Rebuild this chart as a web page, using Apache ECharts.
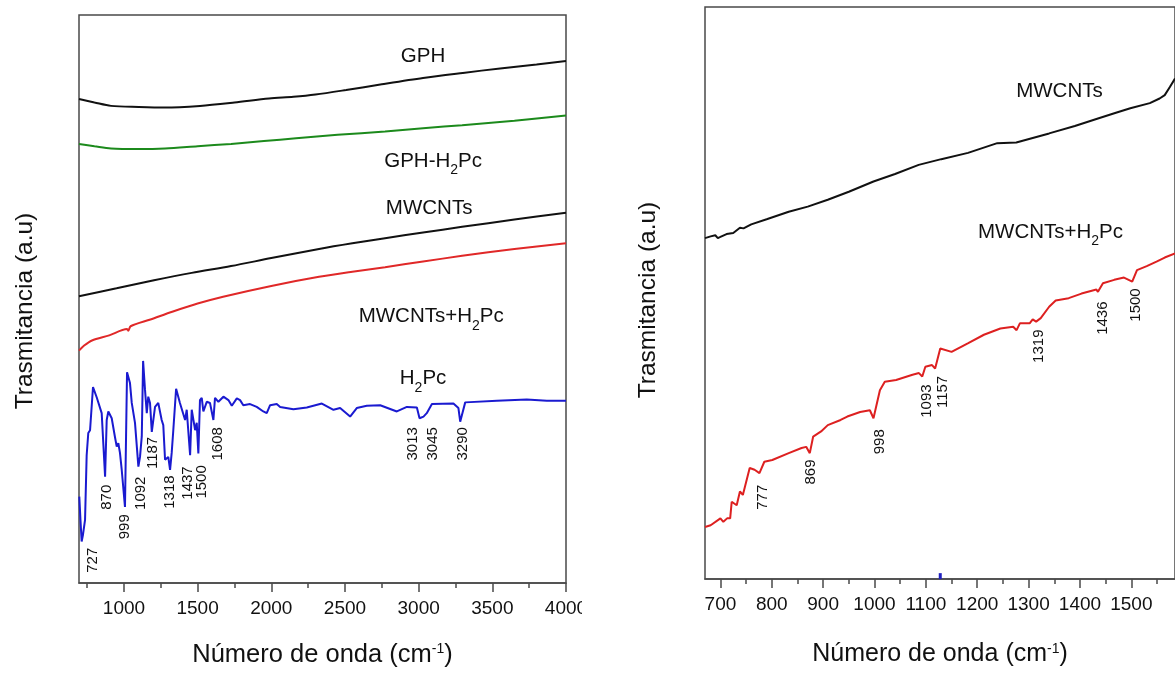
<!DOCTYPE html>
<html><head><meta charset="utf-8">
<script src="https://cdn.jsdelivr.net/npm/echarts@6/dist/echarts.min.js"></script>
<style>html,body{margin:0;padding:0;background:#fff}#c{width:1175px;height:673px}</style>
</head><body><div id="c"></div>
<script>
// ---------- DATA (left panel: 700–4000 cm-1) ----------
const leftTicks = [1000, 1500, 2000, 2500, 3000, 3500, 4000];
const leftMinorTicks = [750, 1250, 1750, 2250, 2750, 3250, 3750];

const gph = [[695,85.2],[800,84.6],[912,84.0],[1100,83.8],[1279,83.7],[1516,84.0],[1750,84.6],[1985,85.3],[2150,85.6],[2300,86.0],[2508,86.8],[2750,87.8],[3030,88.9],[3300,89.8],[3553,90.6],[3800,91.3],[4000,91.9]];
const gphH2pc = [[695,77.3],[800,76.9],[912,76.5],[1100,76.4],[1279,76.5],[1500,76.9],[1727,77.3],[1950,77.8],[2168,78.3],[2450,78.9],[2772,79.5],[3050,80.1],[3295,80.6],[3650,81.4],[4000,82.3]];
const mwcnts = [[695,50.5],[950,51.9],[1204,53.3],[1460,54.6],[1727,55.8],[2000,57.2],[2324,58.8],[2550,59.8],[2772,60.7],[3030,61.7],[3295,62.7],[3650,64.0],[4000,65.2]];
const mwcntsH2pc = [[695,40.9],[730,41.8],[783,42.7],[900,43.6],[1021,44.7],[1030,44.4],[1045,45.2],[1180,46.4],[1333,47.8],[1500,49.2],[1673,50.4],[2000,52.3],[2324,53.9],[2550,54.8],[2772,55.6],[3030,56.6],[3295,57.6],[3650,58.8],[4000,59.8]];
const h2pc = [[697,15.2],[705,11.1],[713,7.3],[722,8.5],[729,8.8],[736,11.1],[747,22.5],[758,26.4],[770,26.9],[790,34.5],[815,32.7],[849,29.9],[872,18.7],[883,28.7],[894,30.2],[917,29.0],[939,25.7],[951,24.0],[962,24.6],[973,22.9],[985,19.9],[1007,13.4],[1021,37.1],[1041,35.2],[1053,31.7],[1075,28.2],[1098,20.5],[1109,22.2],[1121,25.8],[1130,39.1],[1143,34.0],[1155,29.9],[1165,32.8],[1177,31.7],[1189,26.6],[1211,31.0],[1233,31.7],[1256,28.7],[1267,27.8],[1279,21.7],[1301,22.2],[1313,19.9],[1324,22.9],[1335,26.9],[1354,34.2],[1380,31.7],[1415,28.7],[1426,30.5],[1449,22.5],[1460,30.5],[1483,26.9],[1494,28.2],[1505,22.8],[1516,32.2],[1528,32.6],[1539,30.2],[1562,31.9],[1584,31.7],[1607,28.7],[1618,32.6],[1641,31.9],[1675,32.8],[1709,32.2],[1732,31.2],[1766,32.5],[1788,32.2],[1810,31.3],[1856,31.5],[1901,31.0],[1946,30.2],[1969,29.9],[1992,31.3],[2037,31.5],[2060,31.0],[2150,30.6],[2241,30.9],[2343,31.6],[2422,30.5],[2467,30.8],[2535,29.3],[2580,30.8],[2648,31.2],[2739,31.3],[2852,30.2],[2920,31.0],[2988,30.9],[3006,29.0],[3033,29.3],[3055,29.9],[3090,31.5],[3236,31.6],[3270,30.8],[3282,28.4],[3316,31.8],[3531,32.1],[3734,32.3],[3870,32.1],[3983,32.1],[4000,32.1]];

// peak annotations: [text, wavenumber, level]
const leftPeaks = [["727",790,4.0],["870",885,15.1],["999",1007,9.9],["1092",1116,15.8],["1187",1197,22.9],["1318",1313,16.0],["1437",1435,17.6],["1500",1530,17.8],["1608",1639,24.5],["3013",2962,24.5],["3045",3098,24.5],["3290",3302,24.5]];
const leftNames = [["{m|GPH}",3030,92.6],["{m|GPH-H}{s|2}{m|Pc}",3098,74.2],["{m|MWCNTs}",3071,65.8],["{m|MWCNTs+H}{s|2}{m|Pc}",3085,46.8],["{m|H}{s|2}{m|Pc}",3030,35.9]];

// ---------- DATA (right panel: 670–1585 cm-1) ----------
const rightTicks = [700, 800, 900, 1000, 1100, 1200, 1300, 1400, 1500];
const rightMinorTicks = [750, 850, 950, 1050, 1150, 1250, 1350, 1450, 1550];

const rMwcnts = [[670,59.6],[681,59.9],[690,60.1],[695,59.6],[700,59.8],[712,60.3],[725,60.5],[738,61.4],[745,61.3],[760,62.0],[790,62.9],[833,64.2],[870,65.1],[909,66.3],[950,67.7],[998,69.5],[1040,70.8],[1086,72.4],[1130,73.4],[1182,74.5],[1239,76.2],[1276,76.3],[1340,77.9],[1390,79.2],[1435,80.5],[1470,81.5],[1498,82.3],[1536,83.2],[1555,84.0],[1565,84.6],[1575,86.0],[1585,87.5]];
const rMwcntsH2pc = [[670,9.1],[681,9.4],[700,10.6],[705.7,10.0],[713,10.6],[719,10.6],[722,13.5],[731.7,12.9],[738,15.3],[743.7,14.7],[757,19.4],[766.5,19.1],[776,18.5],[785.5,20.5],[801,20.8],[833,22.0],[858,22.9],[867,23.1],[874,22.0],[880.6,24.9],[896,25.8],[909,26.9],[934,27.8],[947,28.4],[972,29.2],[991,29.5],[998,28.1],[1010.5,33.0],[1020,34.5],[1042,34.8],[1074,35.7],[1086.5,36.0],[1093,35.4],[1099,37.1],[1112,37.4],[1118,36.8],[1128,40.3],[1150,39.7],[1181.6,41.2],[1213,42.7],[1245,43.8],[1270,44.1],[1276.6,43.5],[1283,44.7],[1302,44.7],[1308,45.4],[1314.6,45.0],[1323.6,45.6],[1327,45.3],[1340,47.6],[1352.7,48.7],[1378,49.1],[1403,49.9],[1432,50.6],[1435,50.2],[1444.7,51.7],[1466.7,52.3],[1485.7,52.7],[1501.7,52.0],[1511,54.0],[1530,54.7],[1549,55.5],[1565,56.2],[1585,56.9]];
const rBlueMark = [[1128,0.5]];

const rightPeaks = [["777",781.7,14.3],["869",876.8,18.7],["998",1010,24.0],["1093",1101,31.1],["1157",1133,32.7],["1319",1320,40.7],["1436",1445,45.6],["1500",1508,47.9]];
const rightNames = [["{m|MWCNTs}",1360,85.1],["{m|MWCNTs+H}{s|2}{m|Pc}",1342.6,60.6]];

// ---------- CHART ----------
const FONT = "'Liberation Sans', Arial, Helvetica, sans-serif";
const AX = '#4a4a4a';
const TXT = '#111';
const chart = echarts.init(document.getElementById('c'));

const xTitle = 'Número de onda (cm{sup|-1})';
function xTitleStyle(size) {
  return {fontFamily: FONT, fontSize: size, color: TXT,
    rich: {sup: {fontFamily: FONT, fontSize: 14, color: TXT, verticalAlign: 'top'}}};
}
const nameRich = {
  m: {fontFamily: FONT, fontSize: 20.5, color: TXT, lineHeight: 22, verticalAlign: 'top'},
  s: {fontFamily: FONT, fontSize: 14, color: TXT, lineHeight: 14, verticalAlign: 'top', padding: [13, 0, 0, 0]}
};

function mainAxis(grid, min, max, ticks, gap, tsize) {
  return {gridIndex: grid, type: 'value', min, max,
    axisLine: {show: true, onZero: false, lineStyle: {color: AX, width: 1.5}},
    axisTick: {show: true, customValues: ticks, length: 9, lineStyle: {color: AX, width: 1.5}},
    axisLabel: {customValues: ticks, formatter: v => String(v), fontFamily: FONT, fontSize: 19, margin: 16, color: TXT},
    splitLine: {show: false},
    name: xTitle, nameLocation: 'middle', nameGap: gap, nameTextStyle: xTitleStyle(tsize)};
}
function minorAxis(grid, min, max, ticks) {
  return {gridIndex: grid, type: 'value', min, max, position: 'bottom',
    axisLine: {show: false, onZero: false},
    axisTick: {show: true, customValues: ticks, length: 5, lineStyle: {color: AX, width: 1.5}},
    axisLabel: {show: false}, splitLine: {show: false}};
}
function line(data, color, xi, yi, smooth) {
  return {type: 'line', data, xAxisIndex: xi, yAxisIndex: yi, showSymbol: false, symbol: 'none',
    smooth: smooth ? 0.3 : false, lineStyle: {color, width: 2}, silent: true, z: 3};
}
function labels(list, xi, yi, rotate, size) {
  return {type: 'scatter', xAxisIndex: xi, yAxisIndex: yi, symbolSize: 1, silent: true, z: 5,
    itemStyle: {color: 'rgba(0,0,0,0)', opacity: 1},
    data: list.map(p => ({value: [p[1], p[2]], name: p[0]})),
    label: {show: true, position: 'inside', rotate, formatter: '{b}', opacity: 1, textBorderWidth: 0,
      fontFamily: FONT, fontSize: size, color: TXT, rich: nameRich}};
}

chart.setOption({
  animation: false,
  backgroundColor: '#fff',
  grid: [
    {left: 79, top: 15, width: 487, height: 568, show: true, borderColor: AX, borderWidth: 1.5},
    {left: 705, top: 7, width: 481, height: 572, show: true, borderColor: AX, borderWidth: 1.5}
  ],
  xAxis: [
    mainAxis(0, 695, 4000, leftTicks, 59, 25.5),
    minorAxis(0, 695, 4000, leftMinorTicks),
    mainAxis(1, 670, 1585, rightTicks, 63, 25),
    minorAxis(1, 670, 1585, rightMinorTicks)
  ],
  yAxis: [
    {gridIndex: 0, type: 'value', min: 0, max: 100, show: false},
    {gridIndex: 1, type: 'value', min: 0, max: 100, show: false}
  ],
  series: [
    line(gph, '#111111', 0, 0, true),
    line(gphH2pc, '#1c8a1c', 0, 0, true),
    line(mwcnts, '#111111', 0, 0, true),
    line(mwcntsH2pc, '#e02828', 0, 0, true),
    line(h2pc, '#1a1ad0', 0, 0, false),
    line(rMwcnts, '#111111', 2, 1, false),
    line(rMwcntsH2pc, '#dd2020', 2, 1, false),
    {type: 'scatter', data: rBlueMark, xAxisIndex: 2, yAxisIndex: 1, symbol: 'rect', symbolSize: [3, 6],
      itemStyle: {color: '#2020c0', opacity: 1}, silent: true},
    labels(leftPeaks, 0, 0, 90, 15),
    labels(rightPeaks, 2, 1, 90, 15),
    labels(leftNames, 0, 0, 0, 20.5),
    labels(rightNames, 2, 1, 0, 20.5)
  ],
  graphic: [
    {type: 'text', x: 25, y: 311, rotation: Math.PI / 2,
      style: {text: 'Trasmitancia (a.u)', fontFamily: FONT, fontSize: 24.5, fill: TXT, align: 'center', verticalAlign: 'middle'}},
    {type: 'text', x: 648, y: 300, rotation: Math.PI / 2,
      style: {text: 'Trasmitancia (a.u)', fontFamily: FONT, fontSize: 24.5, fill: TXT, align: 'center', verticalAlign: 'middle'}},
    {type: 'rect', shape: {x: 582, y: 594, width: 40, height: 34}, style: {fill: '#fff'}, z: 100}
  ]
});
</script></body></html>
